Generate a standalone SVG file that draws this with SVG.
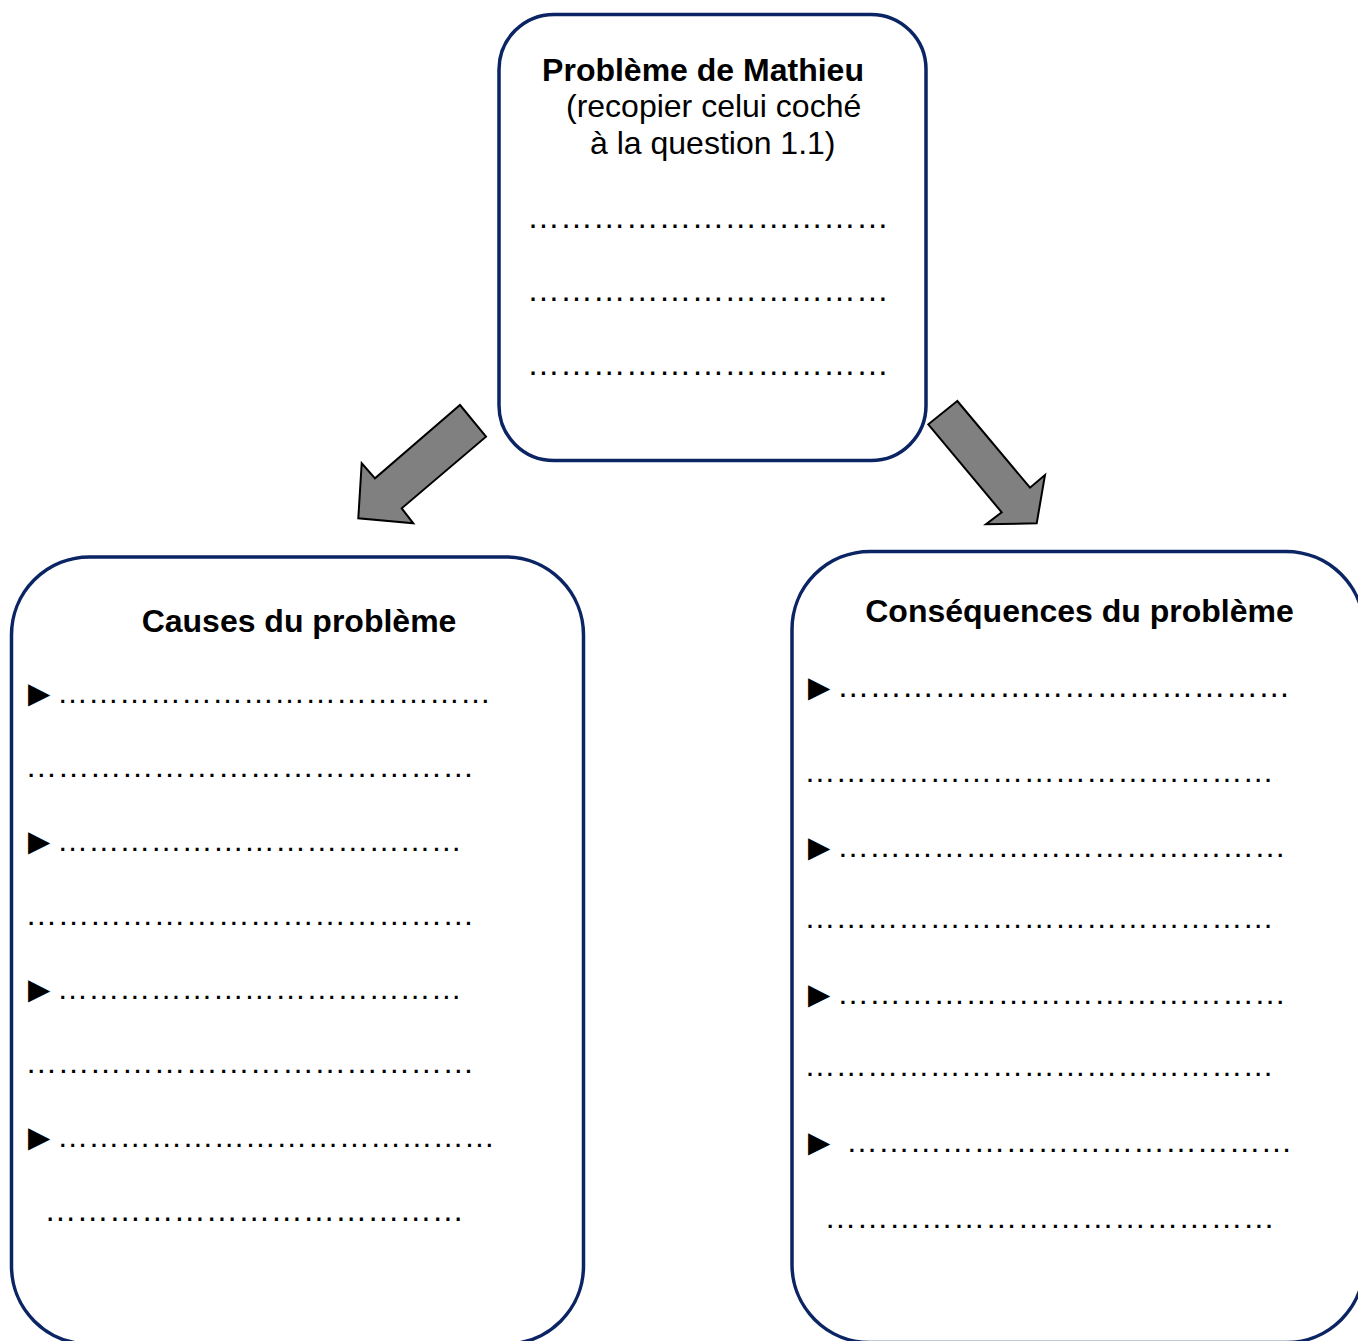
<svg xmlns="http://www.w3.org/2000/svg" width="1358" height="1341" viewBox="0 0 1358 1341">
<style>
.box{fill:#ffffff;stroke:#0b2463;stroke-width:3.5}
.arrow{fill:#808080;stroke:#000000;stroke-width:2;stroke-linejoin:miter}
.t{font-family:"Liberation Sans",Arial,sans-serif;font-size:32px;fill:#000000}
.b{font-weight:bold}
.d{font-family:"Liberation Sans",Arial,sans-serif;fill:#000000}
.bl{font-family:"DejaVu Sans",sans-serif;font-size:29px;fill:#000000}
</style>
<rect width="1358" height="1341" fill="#ffffff"/>
<g id="connectors">
<polygon class="arrow" points="460,405 486,436.7 401.7,508.3 413.3,523.3 358.3,518.3 361.7,463.3 375,478.3"/>
<polygon class="arrow" points="957.3,401 928.3,424.3 1001.7,512.3 986,524.3 1036.7,523.3 1045,475 1030,487.7"/>
</g>
<g id="node-probleme">
<rect class="box" x="499" y="14.5" width="427" height="446" rx="55" ry="55"/>
<text class="t b" x="703" y="81" text-anchor="middle">Problème de Mathieu</text>
<text class="t" x="566" y="117">(recopier celui coché</text>
<text class="t" x="590" y="154">à la question 1.1)</text>
<text class="d" x="527" y="227.5" style="font-size:32.9px">&#8230;&#8230;&#8230;&#8230;&#8230;&#8230;&#8230;&#8230;&#8230;&#8230;&#8230;</text>
<text class="d" x="527" y="301" style="font-size:32.9px">&#8230;&#8230;&#8230;&#8230;&#8230;&#8230;&#8230;&#8230;&#8230;&#8230;&#8230;</text>
<text class="d" x="527" y="374.5" style="font-size:32.9px">&#8230;&#8230;&#8230;&#8230;&#8230;&#8230;&#8230;&#8230;&#8230;&#8230;&#8230;</text>
</g>
<g id="node-causes">
<rect class="box" x="11.5" y="557" width="572" height="787" rx="78" ry="78"/>
<text class="t b" x="299" y="632" text-anchor="middle">Causes du problème</text>
<text class="bl" x="28" y="703">▶</text>
<text class="d" x="57" y="703" style="font-size:31px">&#8230;&#8230;&#8230;&#8230;&#8230;&#8230;&#8230;&#8230;&#8230;&#8230;&#8230;&#8230;&#8230;&#8230;</text>
<text class="d" x="25.3" y="777" style="font-size:32.1px">&#8230;&#8230;&#8230;&#8230;&#8230;&#8230;&#8230;&#8230;&#8230;&#8230;&#8230;&#8230;&#8230;&#8230;</text>
<text class="bl" x="28" y="851">▶</text>
<text class="d" x="57" y="851" style="font-size:31.15px">&#8230;&#8230;&#8230;&#8230;&#8230;&#8230;&#8230;&#8230;&#8230;&#8230;&#8230;&#8230;&#8230;</text>
<text class="d" x="25.3" y="925" style="font-size:32.1px">&#8230;&#8230;&#8230;&#8230;&#8230;&#8230;&#8230;&#8230;&#8230;&#8230;&#8230;&#8230;&#8230;&#8230;</text>
<text class="bl" x="28" y="999">▶</text>
<text class="d" x="57" y="999" style="font-size:31.15px">&#8230;&#8230;&#8230;&#8230;&#8230;&#8230;&#8230;&#8230;&#8230;&#8230;&#8230;&#8230;&#8230;</text>
<text class="d" x="25.3" y="1072.5" style="font-size:32.1px">&#8230;&#8230;&#8230;&#8230;&#8230;&#8230;&#8230;&#8230;&#8230;&#8230;&#8230;&#8230;&#8230;&#8230;</text>
<text class="bl" x="28" y="1146.5">▶</text>
<text class="d" x="57" y="1146.5" style="font-size:31.3px">&#8230;&#8230;&#8230;&#8230;&#8230;&#8230;&#8230;&#8230;&#8230;&#8230;&#8230;&#8230;&#8230;&#8230;</text>
<text class="d" x="44.3" y="1220.5" style="font-size:32.3px">&#8230;&#8230;&#8230;&#8230;&#8230;&#8230;&#8230;&#8230;&#8230;&#8230;&#8230;&#8230;&#8230;</text>
</g>
<g id="node-consequences">
<rect class="box" x="792" y="551.5" width="572" height="791" rx="78" ry="78"/>
<text class="t b" x="1079.5" y="622" text-anchor="middle">Conséquences du problème</text>
<text class="bl" x="808" y="696.5">▶</text>
<text class="d" x="837" y="696.5" style="font-size:32.4px">&#8230;&#8230;&#8230;&#8230;&#8230;&#8230;&#8230;&#8230;&#8230;&#8230;&#8230;&#8230;&#8230;&#8230;</text>
<text class="d" x="804.3" y="781.5" style="font-size:31.3px">&#8230;&#8230;&#8230;&#8230;&#8230;&#8230;&#8230;&#8230;&#8230;&#8230;&#8230;&#8230;&#8230;&#8230;&#8230;</text>
<text class="bl" x="808" y="856.5">▶</text>
<text class="d" x="837" y="856.5" style="font-size:32.1px">&#8230;&#8230;&#8230;&#8230;&#8230;&#8230;&#8230;&#8230;&#8230;&#8230;&#8230;&#8230;&#8230;&#8230;</text>
<text class="d" x="804.3" y="928" style="font-size:31.3px">&#8230;&#8230;&#8230;&#8230;&#8230;&#8230;&#8230;&#8230;&#8230;&#8230;&#8230;&#8230;&#8230;&#8230;&#8230;</text>
<text class="bl" x="808" y="1004">▶</text>
<text class="d" x="837" y="1004" style="font-size:32.1px">&#8230;&#8230;&#8230;&#8230;&#8230;&#8230;&#8230;&#8230;&#8230;&#8230;&#8230;&#8230;&#8230;&#8230;</text>
<text class="d" x="804.3" y="1076" style="font-size:31.3px">&#8230;&#8230;&#8230;&#8230;&#8230;&#8230;&#8230;&#8230;&#8230;&#8230;&#8230;&#8230;&#8230;&#8230;&#8230;</text>
<text class="bl" x="808" y="1152">▶</text>
<text class="d" x="846" y="1152" style="font-size:31.9px">&#8230;&#8230;&#8230;&#8230;&#8230;&#8230;&#8230;&#8230;&#8230;&#8230;&#8230;&#8230;&#8230;&#8230;</text>
<text class="d" x="824.3" y="1227.5" style="font-size:32.2px">&#8230;&#8230;&#8230;&#8230;&#8230;&#8230;&#8230;&#8230;&#8230;&#8230;&#8230;&#8230;&#8230;&#8230;</text>
</g>
</svg>
